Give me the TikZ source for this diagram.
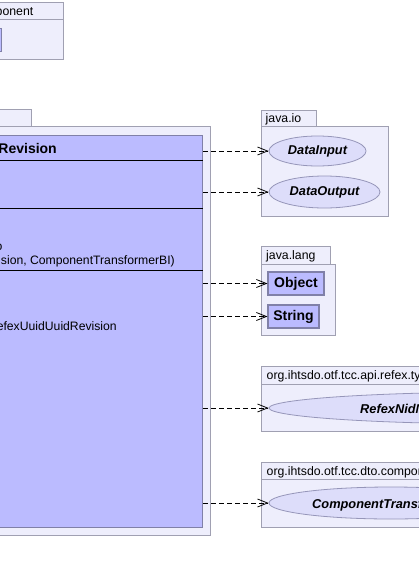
\documentclass[tikz,border=0pt]{standalone}
\usepackage{fontspec}
\setmainfont{Liberation Sans}
\usetikzlibrary{arrows.meta,shapes.geometric}
\definecolor{pkgfill}{RGB}{238,238,252}
\definecolor{pkgline}{RGB}{160,160,178}
\definecolor{clsfill}{RGB}{187,187,255}
\definecolor{clsline}{RGB}{128,128,168}
\definecolor{ellfill}{RGB}{221,221,250}
\definecolor{ellline}{RGB}{150,150,185}
\begin{document}
\begin{tikzpicture}[x=1pt,y=-1pt,
  pkg/.style={draw=pkgline,fill=pkgfill,line width=0.9pt},
  clsbox/.style={draw=clsline,fill=clsfill,line width=1.1pt,inner sep=0pt},
  sepline/.style={draw=black,line width=1pt},
  ell/.style={ellipse,draw=ellline,fill=ellfill,line width=0.8pt,inner sep=0pt},
  elltxt/.style={inner sep=0pt,font=\fontsize{12.8}{14}\selectfont\bfseries\itshape},
  boxtxt/.style={clsbox,font=\fontsize{14}{16}\selectfont\bfseries},
  pkgtxt/.style={inner sep=0pt,font=\fontsize{12.3}{14}\selectfont},
  memtxt/.style={inner sep=0pt,font=\fontsize{12.2}{14}\selectfont},
  titletxt/.style={inner sep=0pt,font=\fontsize{14}{16}\selectfont\bfseries},
  dep/.style={draw=black,line width=0.8pt,dash pattern=on 5pt off 3pt,
    -{Straight Barb[length=10pt,width=8pt,line width=0.8pt]}}]
\useasboundingbox (0,0) rectangle (419,573);
\clip (0,0) rectangle (419,573);
\fill[white] (0,0) rectangle (419,573);

% top-left package (cut off)
\draw[pkg] (-60,2) rectangle (63,19);
\draw[pkg] (-60,19) rectangle (63,59);
\node[pkgtxt,anchor=base east] (tlname) at (33.5,15) {org.ihtsdo.otf.tcc.dto.component};
\node[clsbox,anchor=north east,minimum width=30pt,minimum height=23pt] (tlcls) at (2,28) {};

% main package
\draw[pkg] (-60,109) rectangle (31.5,126);
\draw[pkg] (-60,126) rectangle (210.5,535);
\node[clsbox,anchor=north west,minimum width=262pt,minimum height=392pt] (cls) at (-60,135) {};
\draw[sepline] (cls.west |- 0,160) -- (cls.east |- 0,160);
\draw[sepline] (cls.west |- 0,208) -- (cls.east |- 0,208);
\draw[sepline] (cls.west |- 0,270) -- (cls.east |- 0,270);
\node[titletxt,anchor=base east] (title) at (57,153) {TtkRefexUuidUuidRevision};
\node[memtxt,anchor=base east] (m1) at (2.6,250) {o};
\node[memtxt,anchor=base east] (m2) at (175,264.5) {TtkRefexUuidUuidRevision(TtkRefexUuidUuidRevision, ComponentTransformerBI)};
\node[memtxt,anchor=base east] (m3) at (117,330) {TtkRefexUuidUuidRevision};

% java.io
\draw[pkg] (261,110) rectangle (316,126);
\draw[pkg] (261,126) rectangle (388,216);
\node[pkgtxt,anchor=base west] (javaio) at (265.5,122) {java.io};
\node[ell,minimum width=97pt,minimum height=30pt] (din) at (317.5,151) {};
\node[elltxt] (dint) at (din) {DataInput};
\node[ell,minimum width=111pt,minimum height=32pt] (dout) at (324.5,192) {};
\node[elltxt] (doutt) at (dout) {DataOutput};

% java.lang
\draw[pkg] (261,246) rectangle (330.5,264);
\draw[pkg] (261,264) rectangle (335,335.5);
\node[pkgtxt,anchor=base west] (javalang) at (266,259.5) {java.lang};
\node[boxtxt,minimum width=56pt,minimum height=23pt] (obj) at (296,283.5) {Object};
\node[boxtxt,minimum width=51pt,minimum height=23pt] (str) at (293.5,316.5) {String};

% refex package
\draw[pkg] (261,366) rectangle (440,384);
\draw[pkg] (261,384) rectangle (440,431);
\node[pkgtxt,anchor=base west] (refexpkg) at (266.5,379.5) {org.ihtsdo.otf.tcc.api.refex.type\_nid\_nid};
\node[ell,minimum width=480pt,minimum height=32pt] (rnn) at (509,408) {};
\node[elltxt,anchor=base west] (rnnt) at (360,413) {RefexNidNidAnalogBI};

% dto package
\draw[pkg] (261,462) rectangle (440,479);
\draw[pkg] (261,479) rectangle (440,527);
\node[pkgtxt,anchor=base west] (dtopkg) at (266.5,475) {org.ihtsdo.otf.tcc.dto.component.transformer};
\node[ell,minimum width=244pt,minimum height=32pt] (ctb) at (391,503) {};
\node[elltxt,anchor=base west] (ctbt) at (312,508) {ComponentTransformerBI};

% dependencies
\draw[dep] (cls.east |- din.west) -- (din.west);
\draw[dep] (cls.east |- dout.west) -- (dout.west);
\draw[dep] (cls.east |- obj.west) -- (obj.west);
\draw[dep] (cls.east |- str.west) -- (str.west);
\draw[dep] (cls.east |- rnn.west) -- (rnn.west);
\draw[dep] (cls.east |- ctb.west) -- (ctb.west);
\end{tikzpicture}
\end{document}
